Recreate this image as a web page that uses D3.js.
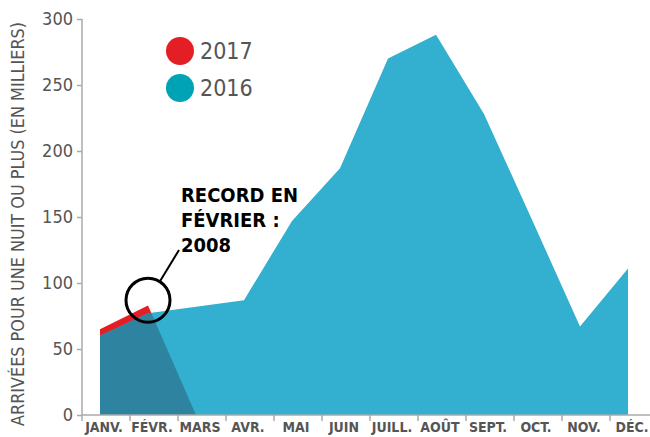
<!DOCTYPE html>
<html>
<head>
<meta charset="utf-8">
<script src="https://cdn.jsdelivr.net/npm/d3@7"></script>
<style>
  body { margin: 0; background: #fff; }
  text { font-family: "DejaVu Sans Condensed", "Liberation Sans Narrow", sans-serif; font-stretch: condensed; }
</style>
</head>
<body>
<div id="chart"></div>
<script>
let width = 650
let height = 437

// data (arrivals, thousands)
let months = ["JANV.", "FÉVR.", "MARS", "AVR.", "MAI", "JUIN", "JUILL.", "AOÛT", "SEPT.", "OCT.", "NOV.", "DÉC."]
let values2016 = [60, 77, 82, 87, 147, 187, 270, 288, 228, 148, 67, 111]
let months2017 = ["JANV.", "FÉVR.", "MARS"]
let values2017 = [65, 83, 0]
let yTicks = [0, 50, 100, 150, 200, 250, 300]
let legendLabels = ["2017", "2016"]
let legendColors = ["#e31e24", "#00a3b6"]
let noteLines = ["RECORD EN", "FÉVRIER :", "2008"]

let svg = d3.select("#chart")
  .append("svg")
  .attr("width", width)
  .attr("height", height)

// band = one month slot, points sit 18px into the slot
let xBand = d3.scaleBand()
  .domain(months)
  .range([82, 658])

let xPoint = m => xBand(m) + 18

let yScale = d3.scaleLinear()
  .domain([0, 300])
  .range([415, 19])

let area = d3.area()
  .x(d => xPoint(d.m))
  .y0(yScale(0))
  .y1(d => yScale(d.v))

let data2016 = months.map((m, i) => ({m: m, v: values2016[i]}))
let data2017 = months2017.map((m, i) => ({m: m, v: values2017[i]}))

svg.append("path")
  .attr("d", area(data2017))
  .attr("fill", "#e31e24")

svg.append("path")
  .attr("d", area(data2016))
  .attr("fill", "#33afcf")

// overlap of 2017 with 2016 drawn darker
svg.append("clipPath")
  .attr("id", "clip2016")
  .append("path")
  .attr("d", area(data2016))

svg.append("path")
  .attr("d", area(data2017))
  .attr("fill", "#2e84a0")
  .attr("clip-path", "url(#clip2016)")

// axes
let xAxis = d3.axisBottom(xBand).tickSize(6).tickFormat("")
let gx = svg.append("g")
  .attr("transform", `translate(0,${yScale(0)})`)
  .call(xAxis)
gx.select(".domain").attr("d", `M82,0H650`)
gx.selectAll(".tick").attr("transform", d => `translate(${xBand(d)},0)`)
gx.selectAll("line, path").attr("stroke", "#aaa").attr("stroke-width", 1.5)

svg.selectAll(".mlabel")
  .data(months)
  .enter()
  .append("text")
  .attr("class", "mlabel")
  .attr("x", d => xBand(d) + 22)
  .attr("y", 432)
  .attr("text-anchor", "middle")
  .attr("fill", "#555")
  .attr("font-size", 14)
  .attr("font-weight", "bold")
  .text(d => d)

let yAxis = d3.axisLeft(yScale).tickValues(yTicks).tickSize(5).tickPadding(4)
let gy = svg.append("g")
  .attr("transform", "translate(82,0)")
  .call(yAxis)
gy.select(".domain").attr("d", `M0,${yScale(300)}V${yScale(0)}`)
gy.selectAll("line, path").attr("stroke", "#aaa").attr("stroke-width", 1.5)
gy.selectAll("text")
  .attr("fill", "#555")
  .attr("font-size", 18)
  .attr("font-family", "DejaVu Sans Condensed, sans-serif")

svg.append("text")
  .attr("transform", "translate(24,224) rotate(-90)")
  .attr("text-anchor", "middle")
  .attr("fill", "#555")
  .attr("font-size", 18)
  .attr("textLength", 404)
  .attr("lengthAdjust", "spacingAndGlyphs")
  .text("ARRIVÉES POUR UNE NUIT OU PLUS (EN MILLIERS)")

// legend
let legend = svg.selectAll(".legend")
  .data(legendLabels)
  .enter()
  .append("g")
  .attr("transform", (d, i) => `translate(180,${51 + i * 37})`)

legend.append("circle")
  .attr("r", 14)
  .attr("fill", (d, i) => legendColors[i])

legend.append("text")
  .attr("x", 20)
  .attr("y", 8)
  .attr("fill", "#555")
  .attr("font-size", 23)
  .text(d => d)

// annotation
let cx = xPoint("FÉVR.")
let cy = yScale(87)
svg.append("circle")
  .attr("cx", cx)
  .attr("cy", cy)
  .attr("r", 22)
  .attr("fill", "none")
  .attr("stroke", "#000")
  .attr("stroke-width", 3)

svg.append("line")
  .attr("x1", cx + 12)
  .attr("y1", cy - 19)
  .attr("x2", 179)
  .attr("y2", 250)
  .attr("stroke", "#000")
  .attr("stroke-width", 2)

svg.selectAll(".note")
  .data(noteLines)
  .enter()
  .append("text")
  .attr("class", "note")
  .attr("x", 181)
  .attr("y", (d, i) => 202 + i * 25)
  .attr("fill", "#000")
  .attr("font-size", 20)
  .attr("font-weight", "bold")
  .text(d => d)
</script>
</body>
</html>
